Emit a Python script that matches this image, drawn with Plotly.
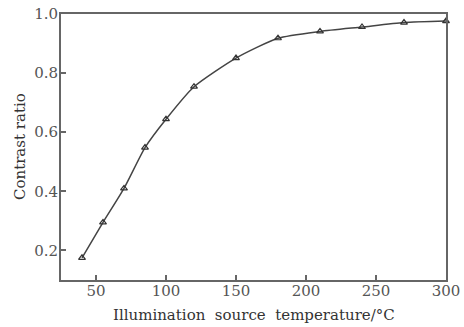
import plotly.graph_objects as go

temperature = [40, 55, 70, 85, 100, 120, 150, 180, 210, 240, 270, 300]
contrast = [0.175, 0.295, 0.41, 0.548, 0.644, 0.754, 0.851, 0.918, 0.941, 0.956, 0.971, 0.976]
x_ticks = [50, 100, 150, 200, 250, 300]
y_ticks = [0.2, 0.4, 0.6, 0.8, 1.0]

fig = go.Figure()
fig.add_trace(go.Scatter(
    x=temperature, y=contrast, mode="lines+markers",
    line=dict(color="#444444", width=1.5, shape="spline", smoothing=0.6),
    marker=dict(symbol="triangle-up-open", size=6, color="#333333", line=dict(width=1.2)),
    showlegend=False, cliponaxis=False,
))

fam = "DejaVu Serif, Liberation Serif, serif"
axis_common = dict(
    showgrid=False, zeroline=False, showline=True, linecolor="#666666", linewidth=2,
    mirror=True, ticks="inside", ticklen=5, tickwidth=1.5, tickcolor="#666666",
    tickfont=dict(family=fam, size=15, color="#555555"), automargin=False,
)
sp = "\u00a0\u00a0"
fig.update_layout(
    width=464, height=327, margin=dict(l=61, r=18, t=14, b=47),
    paper_bgcolor="white", plot_bgcolor="white",
    font=dict(family=fam, size=15, color="#333333"),
    xaxis=dict(range=[25, 300], tickvals=x_ticks, ticktext=[str(v) for v in x_ticks],
               ticklabelstandoff=-4, **axis_common),
    yaxis=dict(range=[0.1, 1.0], tickvals=y_ticks, ticktext=["0.2", "0.4", "0.6", "0.8", "1.0"],
               ticklabelstandoff=-2, **axis_common),
    annotations=[
        dict(text="Illumination" + sp + "source" + sp + "temperature/°C", xref="paper", yref="paper",
             x=0.5, y=0, xanchor="center", yanchor="middle", yshift=-35, showarrow=False,
             font=dict(family=fam, size=15, color="#333333")),
        dict(text="Contrast ratio", xref="paper", yref="paper", textangle=-90,
             x=0, y=0.5, xanchor="center", yanchor="middle", xshift=-41, showarrow=False,
             font=dict(family=fam, size=15, color="#333333")),
    ],
)
fig.write_html("out.html")
